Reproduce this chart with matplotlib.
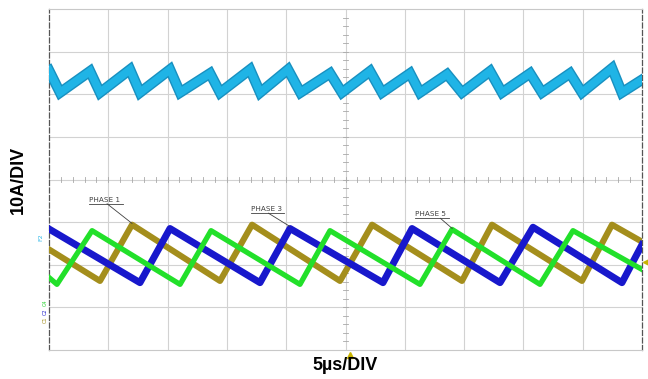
import numpy as np
import matplotlib
matplotlib.use("Agg")
import matplotlib.pyplot as plt

# scope capture: time in us, current in A (10 A/div, 5 us/div)
# summed output current (light blue), vertex times / values
total_t = [0.0, 0.93, 3.46, 4.30, 6.83, 7.67, 10.20, 11.05, 13.58, 14.42, 16.95, 17.80,
           20.15, 21.20, 23.70, 24.70, 27.07, 28.08, 30.44, 31.28, 33.56, 34.82,
           37.19, 38.20, 40.56, 41.57, 43.93, 44.94, 47.47, 48.30, 50.0]
total_i = [25.6, 20.4, 25.4, 20.4, 25.8, 20.4, 25.8, 20.4, 24.9, 20.4, 25.8, 20.4,
           25.8, 20.4, 24.9, 20.4, 25.4, 20.4, 24.9, 20.4, 24.7, 20.4,
           25.4, 20.4, 24.9, 20.4, 24.9, 20.4, 26.1, 20.4, 23.4]

# phase currents (offset on screen)
blue_t = [0.0, 7.67, 10.20, 17.79, 20.32, 28.16, 30.61, 38.03, 40.81, 48.31, 50.0]
blue_i = [-11.6, -24.2, -11.5, -24.2, -11.5, -24.2, -11.5, -24.2, -11.2, -24.2, -15.3]

green_t = [0.0, 0.67, 3.63, 11.05, 13.66, 21.16, 23.69, 31.28, 33.98, 41.40, 44.18, 50.0]
green_i = [-23.0, -24.6, -12.0, -24.6, -12.0, -24.6, -12.0, -24.6, -11.7, -24.6, -12.0, -21.1]

olive_t = [0.0, 4.30, 7.00, 14.42, 17.12, 24.54, 27.24, 34.82, 37.35, 44.94, 47.47, 50.0]
olive_i = [-16.4, -23.8, -10.6, -23.8, -10.6, -23.8, -10.6, -23.8, -10.6, -23.8, -10.6, -14.6]

phase_labels = ["PHASE 1", "PHASE 3", "PHASE 5"]

fig = plt.figure(figsize=(6.48, 3.79), dpi=100)
ax = fig.add_axes([49 / 648, 1 - 350 / 379, 593 / 648, 341 / 379])
ax.set_xlim(0, 50)
ax.set_ylim(-40, 40)

grid_col = "#d2d2d2"
for x in np.arange(5, 50, 5):
    ax.axvline(x, color=grid_col, lw=0.8, zorder=1)
for y in np.arange(-30, 40, 10):
    ax.axhline(y, color=grid_col, lw=0.8, zorder=1)

# minor ticks on the centre cross
for x in np.arange(0, 50.01, 1):
    ax.plot([x, x], [-0.6, 0.6], color="#a8a8a8", lw=0.6, zorder=1)
for y in np.arange(-40, 40.01, 2):
    ax.plot([24.8, 25.2], [y, y], color="#a8a8a8", lw=0.6, zorder=1)

ax.set_xticks([])
ax.set_yticks([])
for side in ["top", "bottom"]:
    ax.spines[side].set_color("#c8c8c8")
    ax.spines[side].set_linewidth(0.8)
for side in ["left", "right"]:
    ax.spines[side].set_color("#555555")
    ax.spines[side].set_linewidth(0.9)
    ax.spines[side].set_linestyle((0, (4, 2)))

# traces
ax.plot(total_t, total_i, color="#1890c0", lw=7.6, solid_joinstyle="miter", zorder=3)
ax.plot(total_t, total_i, color="#1fb4e6", lw=5.6, solid_joinstyle="miter", zorder=3)
ax.plot(olive_t, olive_i, color="#a48e1c", lw=4.4, zorder=4)
ax.plot(blue_t, blue_i, color="#1818cc", lw=5.0, zorder=5)
ax.plot(green_t, green_i, color="#22e02a", lw=3.8, zorder=6)

# phase labels with underline and leader
label_pos = [(3.4, -5.4, 4.9, 7.0, -10.3), (17.0, -7.6, 18.5, 20.3, -11.0), (30.9, -8.8, 33.0, 34.0, -11.5)]
for name, (tx, ty, lx, px, py) in zip(phase_labels, label_pos):
    ax.text(tx, ty, name, fontsize=5.2, color="#404040", ha="left", va="bottom", zorder=7,
            family="DejaVu Sans")
    ax.plot([tx, tx + 2.85], [ty - 0.3, ty - 0.3], color="#404040", lw=0.6, zorder=7)
    ax.plot([lx, px], [ty - 0.3, py], color="#404040", lw=0.6, zorder=7)

# channel markers on the left edge
ax.text(-0.7, -13.6, "F2", fontsize=4.5, color="#30b8e8", rotation=90, ha="center", va="center",
        clip_on=False)
ax.text(-0.35, -29.0, "C4", fontsize=3.6, color="#22d02a", rotation=90, ha="center", va="center",
        clip_on=False)
ax.text(-0.35, -31.0, "C2", fontsize=3.6, color="#2020cc", rotation=90, ha="center", va="center",
        clip_on=False)
ax.text(-0.35, -32.8, "C1", fontsize=3.6, color="#a48e1c", rotation=90, ha="center", va="center",
        clip_on=False)

# trigger markers
ax.plot([25.4], [-41.2], marker="^", color="#c8b400", ms=4, clip_on=False, zorder=8)
ax.plot([50.35], [-19.4], marker="<", color="#c8b400", ms=4, clip_on=False, zorder=8)

fig.text(18 / 648, 1 - 180 / 379, "10A/DIV", rotation=90, ha="center", va="center",
         fontsize=13, fontweight="bold", family="Liberation Sans")
fig.text(345 / 648, 1 - 366 / 379, "5µs/DIV", ha="center", va="center",
         fontsize=13, fontweight="bold", family="Liberation Sans")

fig.savefig("out.png", dpi=100)
